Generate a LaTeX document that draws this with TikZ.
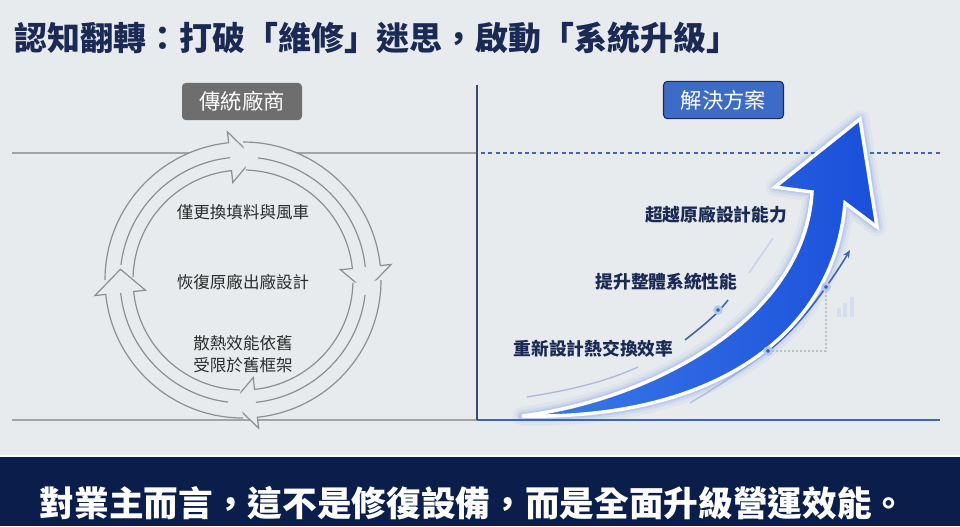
\documentclass[tikz,border=0pt]{standalone}
\usepackage{fontspec}
\setmainfont{Noto Sans CJK TC}
\usetikzlibrary{arrows.meta}
\definecolor{bgc}{HTML}{E8EBEE}
\definecolor{titlec}{HTML}{1B2A55}
\definecolor{cycgray}{HTML}{8E8E8E}
\definecolor{txtgray}{HTML}{2B2B2B}
\definecolor{linegray}{HTML}{A2A4A8}
\definecolor{sepc}{HTML}{3A4B70}
\definecolor{lineblue}{HTML}{3F66B4}
\definecolor{tagc}{HTML}{6E6E6E}
\definecolor{tagblue}{HTML}{3D6CC6}
\definecolor{navyc}{HTML}{0B1E4B}
\definecolor{arrowblue}{HTML}{1A4FDA}
\definecolor{arrowlight}{HTML}{3C7BE8}
\definecolor{glowblue}{HTML}{2E62E0}
\definecolor{dotblue}{HTML}{2B5FC8}
\begin{document}
\begin{tikzpicture}[x=0.75pt,y=-0.75pt,
    cyc/.style={draw=cycgray, line width=0.9pt, fill=bgc, line join=miter},
    tag/.style={rounded corners=3pt, minimum width=90pt, minimum height=28pt, inner sep=0pt, text=white, font=\fontsize{16}{18}\selectfont},
    circtxt/.style={font=\fontsize{12.4}{16.5}\selectfont, text=txtgray, align=center},
    risetxt/.style={font=\bfseries\fontsize{13.3}{15}\selectfont, text=titlec},
    dotc/.style={circle, fill=dotblue, draw=dotblue!35, line width=2pt, inner sep=0pt, minimum size=5pt}
]
    \useasboundingbox (0,0) rectangle (960,526);
    \fill[bgc] (0,0) rectangle (960,526);

    % --- 1. TITLE ---
    \node[anchor=west, text=titlec, font=\bfseries\fontsize{24.7}{28}\selectfont] (title) at (10,38)
        {認知翻轉：打破「維修」迷思，啟動「系統升級」};

    % --- 2. FRAME ---
    \coordinate (ltop) at (12,153); \coordinate (mtop) at (477,153); \coordinate (rtop) at (940,153);
    \coordinate (lbot) at (12,420); \coordinate (mbot) at (477,420); \coordinate (rbot) at (940,420);
    \coordinate (mhigh) at (477,85);
    \draw[linegray, line width=1pt] (ltop) -- (mtop);
    \draw[linegray, line width=1pt] (lbot) -- (mbot);
    \draw[lineblue, line width=1.1pt, dash pattern=on 3pt off 2.5pt] (mtop) ++(4,0) -- (rtop);
    \draw[lineblue, line width=1.2pt] (mbot) -- (rbot);
    \draw[sepc, line width=1pt] (mhigh) -- (mbot);

    \node[tag, fill=tagc] (old) at (242,101.5) {傳統廠商};
    \node[tag, fill=tagblue, draw=titlec, line width=0.8pt] (new) at (723.5,100) {解決方案};

    % --- 3. CYCLE ---
    \coordinate (cc) at (243,280);
    \begin{scope}[shift={(cc)}, yscale=-1]
        \fill[bgc] (0,0) circle[radius=138];
        \foreach \t in {85,-5,-95,175}{
            \pgfmathsetmacro\b{\t+11}
            \pgfmathsetmacro\so{\t+95}
            \pgfmathsetmacro\sm{\t+88}
            \pgfmathsetmacro\si{\t+93.5}
            \draw[cyc] (\so:138) arc[start angle=\so, end angle=\b, radius=138]
                -- (\b:149) -- (\t:123) -- (\b:98) -- (\b:110)
                arc[start angle=\b, end angle=\si, radius=110];
            \draw[cyc, fill=none] (\sm:123) arc[start angle=\sm, end angle=\b, radius=123];
        }
    \end{scope}
    \node[circtxt] (c1) at (243,212) {僅更換填料與風車};
    \node[circtxt] (c2) at (243,282) {恢復原廠出廠設計};
    \node[circtxt] (c3) at (243,354) {散熱效能依舊\\受限於舊框架};

    % --- 4. RISE ---
    \coordinate (rt) at (522,416);
    \coordinate (ln) at (812,192); \coordinate (lc) at (775,187);
    \coordinate (tp) at (860,119);
    \coordinate (rc) at (877,227); \coordinate (rn) at (845,203);

    % small guide lines
    \coordinate (g1a) at (527,397); \coordinate (g1b) at (638,367);
    \draw[lineblue!45, line width=1pt] (g1a) .. controls (570,390) and (605,382) .. (g1b);
    \coordinate (g2a) at (685,340); \coordinate (g2b) at (728,300);
    \draw[lineblue, line width=1.2pt] (g2a) .. controls (700,328) and (716,316) .. (g2b);
    \coordinate (g3a) at (749,273); \coordinate (g3b) at (773,238);
    \draw[lineblue!30, line width=1pt] (g3a) -- (g3b);

    \coordinate (g4a) at (690,403); \coordinate (g4b) at (850,250);
    \coordinate (d2) at (768,351); \coordinate (d3) at (826,287);
    \coordinate (dk) at (826,351);
    \draw[linegray!70, line width=0.8pt, dash pattern=on 1.5pt off 1.5pt] (d2) -- (dk) -- (d3);
    \draw[lineblue!40, line width=1pt] (g4a) .. controls (720,385) and (745,368) .. (d2);
    \draw[lineblue, line width=1.2pt, -{Stealth[length=6pt,width=5pt]}] (d2) .. controls (790,334) and (810,310) .. (d3)
        .. controls (836,273) and (843,262) .. (g4b);

    \foreach \x/\h in {837/9,843/14,850/20}{
        \fill[lineblue!22] (\x,317) rectangle ++(3.5,-\h);
    }

    % big arrow
    \path[preaction={draw=glowblue, opacity=0.05, line width=14pt, line join=round},
          preaction={draw=glowblue, opacity=0.08, line width=9pt, line join=round},
          preaction={draw=glowblue, opacity=0.12, line width=5.5pt, line join=round},
          draw=white, line width=2.6pt, line join=miter, left color=arrowlight, right color=arrowblue]
        (rt) .. controls (650,400) and (805,320) .. (ln) -- (lc) -- (tp) -- (rc) -- (rn)
        .. controls (835,330) and (720,420) .. (rt) -- cycle;

    \node[dotc] (p1) at (718,310) {};
    \node[dotc] (p2) at (d2) {};
    \node[dotc] (p3) at (d3) {};

    \node[risetxt] (r1) at (716,215) {超越原廠設計能力};
    \node[risetxt] (r2) at (666.5,282) {提升整體系統性能};
    \node[risetxt] (r3) at (593.5,349) {重新設計熱交換效率};

    % --- 5. BAND ---
    \fill[navyc] (0,457) rectangle (960,526);
    \draw[white!80!bgc, line width=1pt] (0,456) -- (960,456);
    \node[text=white, font=\bfseries\fontsize{26}{30}\selectfont] (msg) at (473,503)
        {對業主而言，這不是修復設備，而是全面升級營運效能。};
\end{tikzpicture}
\end{document}
